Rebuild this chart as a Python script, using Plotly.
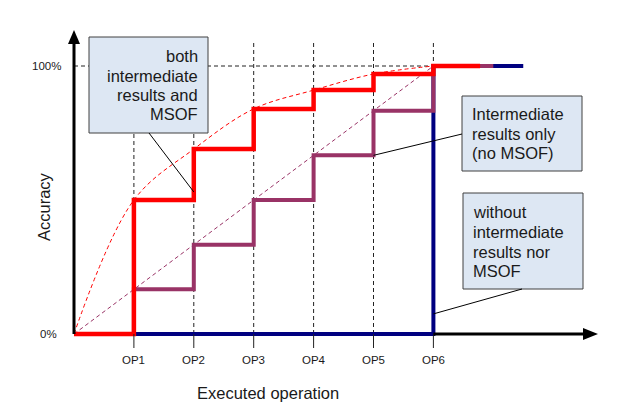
import plotly.graph_objects as go

# ---- data ----
op_labels = ["OP1", "OP2", "OP3", "OP4", "OP5", "OP6"]
op_pos = [1, 2, 3, 4, 5, 6]
acc_both = [0.0, 0.50, 0.69, 0.84, 0.91, 0.97, 1.0]        # intermediate results and MSOF
acc_inter = [0.0, 1/6, 2/6, 3/6, 4/6, 5/6, 1.0]             # intermediate results only
acc_none = [0.0, 0.0, 0.0, 0.0, 0.0, 0.0, 1.0]              # without both
tail_both, tail_inter, tail_none = 6.78, 7.0, 7.5           # end of the 100% plateau
y_ticks = [0.0, 1.0]
y_tick_labels = ["0%", "100%"]
box1_lines = ["both", "intermediate", "results and", "MSOF"]
box2_lines = ["Intermediate", "results only", "(no MSOF)"]
box3_lines = ["without", "intermediate", "results nor", "MSOF"]

W, H = 624, 415
ox, oy = 74, 334           # pixel of origin
ux, uy = 59.9, 268         # pixels per unit
x0 = -ox / ux
x1 = x0 + W / ux
y1 = oy / uy
y0 = y1 - H / uy

def X(px):
    return x0 + px / ux

def Y(py):
    return (oy - py) / uy

fig = go.Figure()

steps_x = [0] + op_pos
# thin dashed reference curves
fig.add_trace(go.Scatter(x=[0, 6], y=[0, 1], mode="lines",
                         line=dict(color="#993366", width=1, dash="4px,3px"), hoverinfo="skip"))
fig.add_trace(go.Scatter(x=steps_x, y=acc_both, mode="lines",
                         line=dict(color="#ff0000", width=1, dash="4px,3px", shape="spline", smoothing=1.0),
                         hoverinfo="skip"))

shapes = []
# vertical dashed grid + ticks
for p in op_pos:
    shapes.append(dict(type="line", x0=p, x1=p, y0=0, y1=Y(40), xref="x", yref="y",
                       line=dict(color="#222222", width=1, dash="4px,3px"), layer="below"))
    shapes.append(dict(type="line", x0=p, x1=p, y0=0, y1=Y(348), xref="x", yref="y",
                       line=dict(color="#222222", width=1)))
# horizontal 100% dashed
shapes.append(dict(type="line", x0=0, x1=op_pos[-1], y0=1, y1=1, xref="x", yref="y",
                   line=dict(color="#222222", width=1, dash="4px,3px"), layer="below"))

# step curves
fig.add_trace(go.Scatter(x=steps_x + [tail_none], y=acc_none + [acc_none[-1]], mode="lines",
                         line=dict(color="#000080", width=4, shape="hv"), hoverinfo="skip"))
fig.add_trace(go.Scatter(x=steps_x + [tail_inter], y=acc_inter + [acc_inter[-1]], mode="lines",
                         line=dict(color="#993366", width=4, shape="hv"), hoverinfo="skip"))
fig.add_trace(go.Scatter(x=steps_x + [tail_both], y=acc_both + [acc_both[-1]], mode="lines",
                         line=dict(color="#ff0000", width=4.5, shape="hv"), hoverinfo="skip"))

# axes with arrows
shapes.append(dict(type="line", x0=0, x1=0, y0=0, y1=Y(44), xref="x", yref="y",
                   line=dict(color="black", width=3)))
shapes.append(dict(type="path", xref="x", yref="y", fillcolor="black", line=dict(width=0),
                   path=f"M {X(ox-6)} {Y(44)} L {X(ox+6)} {Y(44)} L 0 {Y(30)} Z"))
shapes.append(dict(type="line", x0=op_pos[-1], x1=X(584), y0=0, y1=0, xref="x", yref="y",
                   line=dict(color="black", width=3)))
shapes.append(dict(type="path", xref="x", yref="y", fillcolor="black", line=dict(width=0),
                   path=f"M {X(583)} {Y(oy-6)} L {X(583)} {Y(oy+6)} L {X(598)} 0 Z"))

# callout boxes
def box(l, t, r, b):
    shapes.append(dict(type="rect", xref="x", yref="y", x0=X(l), x1=X(r), y0=Y(b), y1=Y(t),
                       fillcolor="#dde7f3", line=dict(color="#404040", width=1)))
box(89, 37, 208, 133)
box(462, 96, 582, 171)
box(463, 193, 583, 289)

# leader lines
shapes.append(dict(type="line", x0=X(149), y0=Y(133), x1=2, y1=0.53, xref="x", yref="y",
                   line=dict(color="black", width=1)))
shapes.append(dict(type="line", x0=X(462), y0=Y(134), x1=5, y1=acc_inter[4], xref="x", yref="y",
                   line=dict(color="black", width=1)))
shapes.append(dict(type="line", x0=X(522), y0=Y(289), x1=6, y1=0.075, xref="x", yref="y",
                   line=dict(color="black", width=1)))

annotations = []
font_main = dict(family="Liberation Sans, Arial, sans-serif", color="#1a1a1a")
# tick labels
for p, lab in zip(op_pos, op_labels):
    annotations.append(dict(x=p, y=Y(360), text=lab, showarrow=False, xref="x", yref="y",
                            font=dict(size=11.5, **font_main)))
annotations.append(dict(x=X(63), y=y_ticks[1], text=y_tick_labels[1], showarrow=False, xref="x", yref="y",
                        xanchor="right", font=dict(size=11.5, **font_main)))
annotations.append(dict(x=X(59), y=y_ticks[0], text=y_tick_labels[0], showarrow=False, xref="x", yref="y",
                        xanchor="right", font=dict(size=11.5, **font_main)))
annotations.append(dict(x=X(268), y=Y(393), text="Executed operation", showarrow=False, xref="x", yref="y",
                        font=dict(size=16.5, **font_main)))
annotations.append(dict(x=X(44), y=Y(207), text="Accuracy", showarrow=False, xref="x", yref="y",
                        textangle=-90, font=dict(size=16.5, **font_main)))

def box_text(lines, xpx, ys, anchor):
    for s, ypx in zip(lines, ys):
        annotations.append(dict(x=X(xpx), y=Y(ypx), text=s, showarrow=False, xref="x", yref="y",
                                xanchor=anchor, yanchor="middle", font=dict(size=16.5, **font_main)))

box_text(box1_lines, 200, [56, 76, 95, 114], "right")
box_text(box2_lines, 470, [114, 134, 153], "left")
box_text(box3_lines, 471, [212, 232, 252, 271], "left")

fig.update_layout(
    width=W, height=H, margin=dict(l=0, r=0, t=0, b=0),
    paper_bgcolor="white", plot_bgcolor="white", showlegend=False,
    xaxis=dict(range=[x0, x1], visible=False, fixedrange=True),
    yaxis=dict(range=[y0, y1], visible=False, fixedrange=True),
    shapes=shapes, annotations=annotations,
)
fig.write_html("out.html")
